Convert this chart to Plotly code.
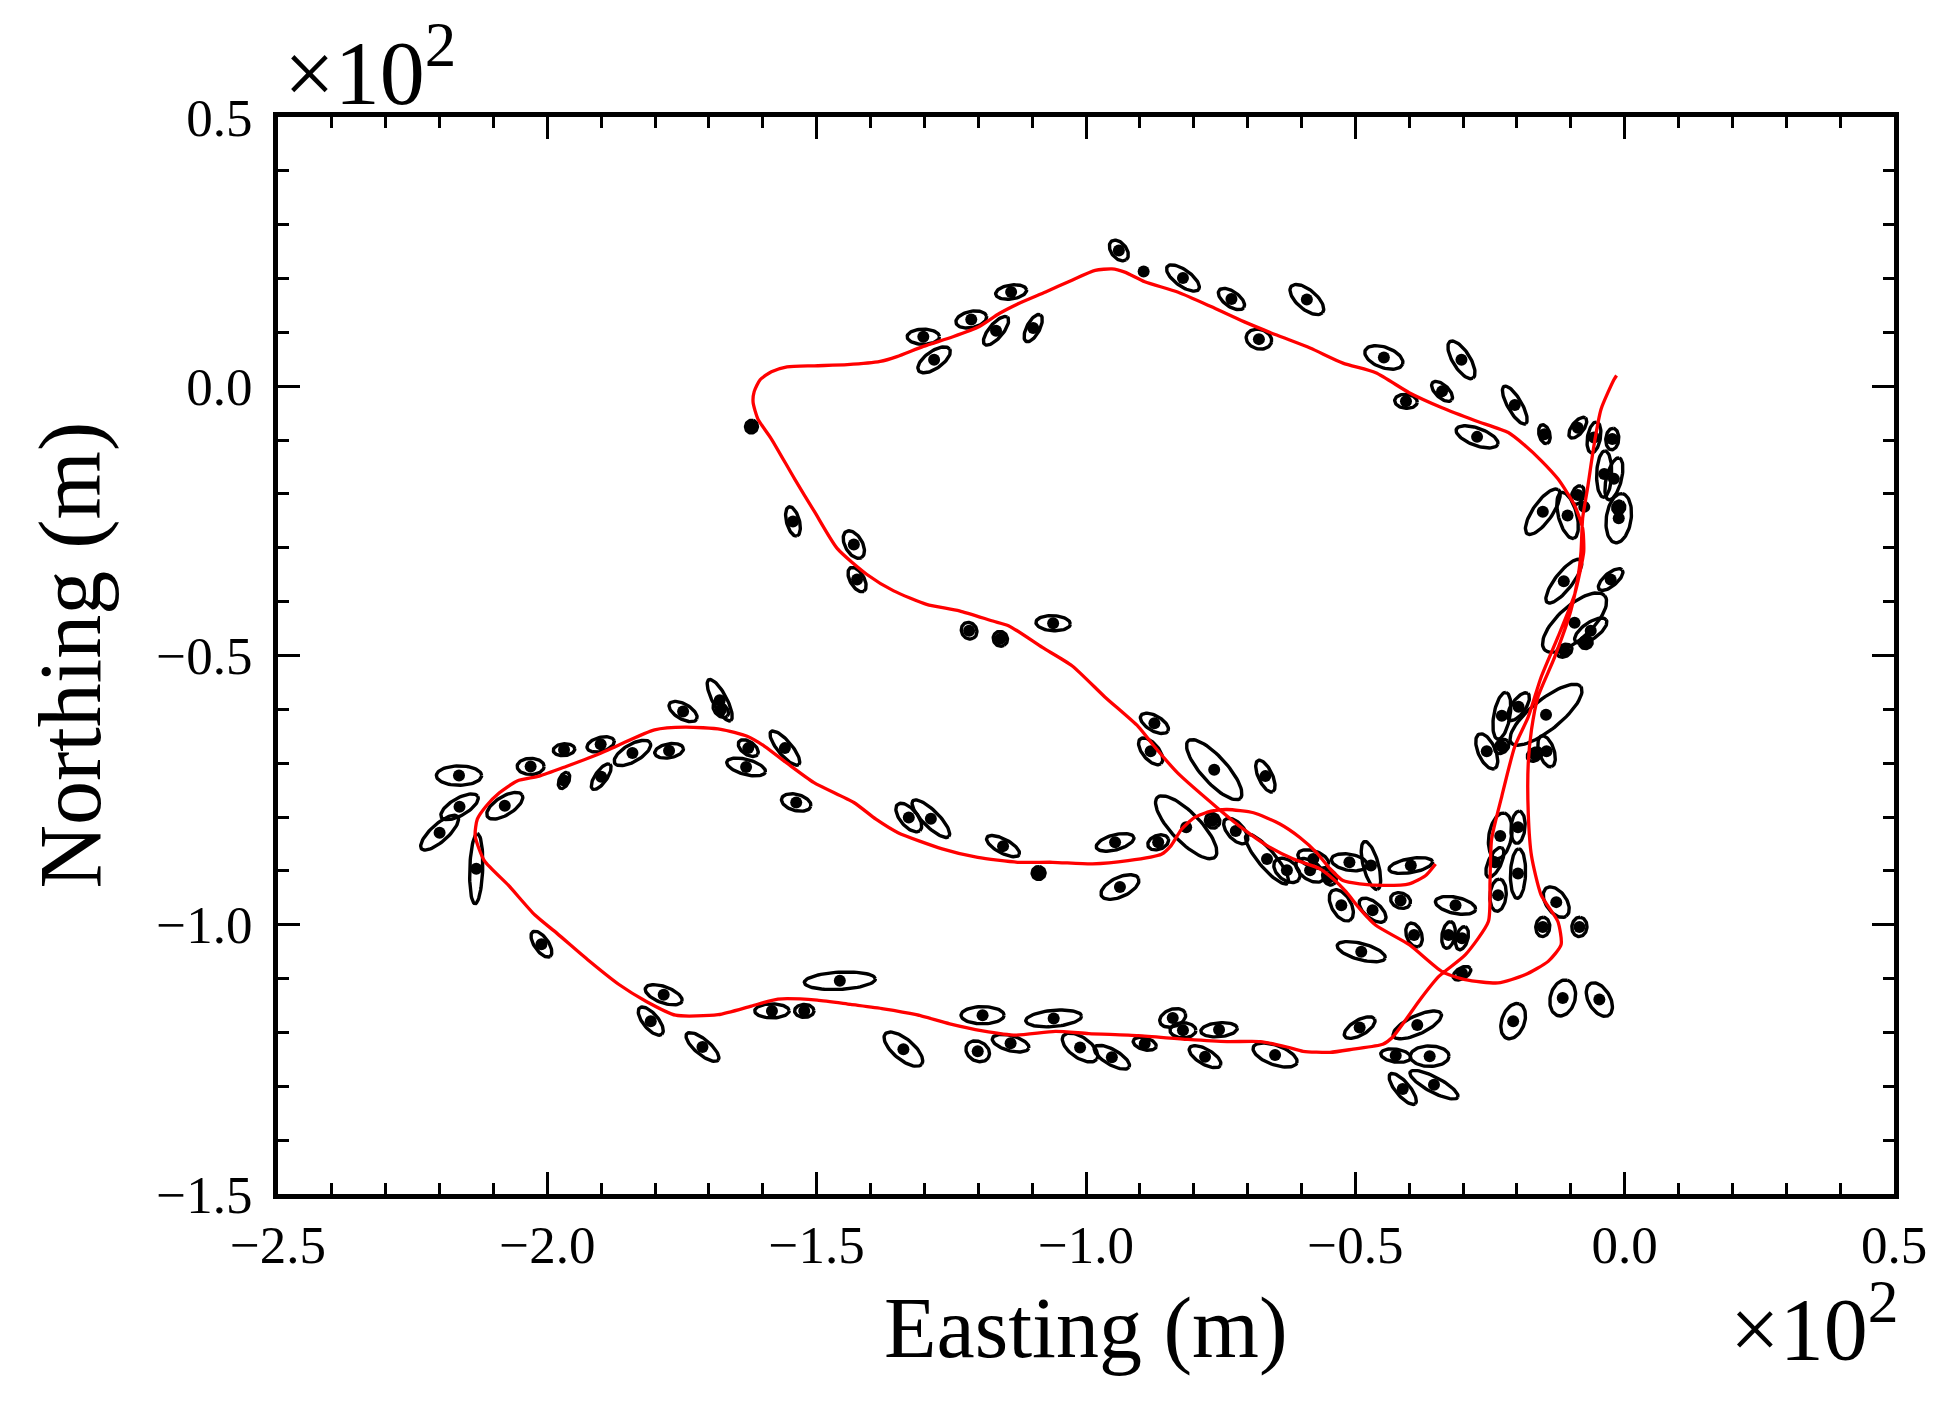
import numpy as np
import plotly.graph_objects as go

# trajectory (easting, northing in m)
track_e = [-1.5, -2.0, -4.4, -5.7, -6.9, -7.8, -8.1, -8.6, -10.0, -13.0, -16.1, -17.3, -17.9, -17.9,
           -17.3, -15.5, -12.4, -11.8, -14.2, -18.5, -23.5, -29.6, -33.9, -40.0, -46.2, -49.2, -51.7,
           -54.1, -56.6, -61.5, -66.4, -70.7, -75.6, -83.0, -87.3, -90.3, -96.5, -102.6, -108.1,
           -114.3, -117.3, -123.5, -129.6, -135.7, -140.6, -146.2, -150.4, -154.1, -158.4, -160.9,
           -161.8, -161.6, -160.5, -158.4, -155.5, -150.4, -144.3, -138.2, -135.1, -130.2, -124.7,
           -119.8, -116.1, -112.4, -107.5, -102.6, -98.3, -95.2, -92.8, -89.1, -83.0, -76.8, -70.7,
           -64.6, -58.4, -52.3, -46.2, -40.0, -33.9, -27.7, -21.6, -18.5, -15.5, -12.4, -9.3, -7.8,
           -7.6, -8.3, -9.3, -12.4, -15.5, -17.9, -20.4, -22.8, -24.7, -25.0, -25.3, -29.6, -34.5,
           -38.2, -40.6, -43.1, -44.9, -50.4, -54.7, -59.7, -62.7, -67.6, -73.8, -81.1, -90.3,
           -99.5, -105.7, -113.0, -119.2, -125.3, -131.5, -137.6, -143.7, -149.9, -157.2, -162.1,
           -168.3, -176.2, -181.7, -186.7, -192.5, -198.2, -202.3, -207.2, -211.7, -213.4, -213.0,
           -211.3, -208.9, -205.6, -201.5, -196.5, -190.0, -186.7, -180.1, -174.4, -167.8, -162.9,
           -159.6, -155.5, -150.5, -143.1, -139.0, -134.9, -126.7, -120.1, -112.7, -106.2, -98.8,
           -92.2, -86.0, -84.2, -82.3, -79.9, -76.8, -73.8, -68.9, -64.0, -60.3, -57.2, -54.7,
           -52.3, -49.2, -44.3, -40.0, -37.0, -35.1]
track_n = [2.0, 1.2, -4.3, -11.0, -19.0, -24.5, -30.7, -35.0, -41.7, -50.3, -57.7, -63.8, -70.0, -79.2,
           -87.2, -94.5, -99.4, -103.7, -106.8, -109.3, -110.8, -110.2, -108.7, -103.7, -100.1, -97.0,
           -93.9, -91.5, -89.6, -87.8, -85.3, -82.3, -78.3, -71.8, -66.9, -63.2, -57.7, -51.9, -48.5,
           -44.5, -43.6, -41.7, -40.5, -38.0, -35.0, -30.1, -23.3, -17.2, -9.8, -6.1,
           -3.0, -1.0, 1.2, 2.7, 3.6, 3.8, 4.0, 4.6, 5.5, 7.4, 9.2,
           11.1, 13.5, 15.4, 17.5, 19.7, 21.5, 21.8, 21.2, 19.4, 17.5, 14.8, 12.0,
           9.5, 7.1, 4.3, 2.5, -1.2, -4.0, -6.4, -8.6, -11.0, -13.8, -17.2, -22.1, -26.4,
           -30.7, -34.5, -38.7, -46.6, -54.0, -61.4, -66.9, -76.1, -84.1, -92.1, -99.4, -105.6, -109.6,
           -114.2, -117.6, -120.9, -122.2, -123.1, -123.7, -123.5, -122.7, -121.7, -121.7, -121.3, -120.6,
           -120.2, -119.8, -120.5, -119.7, -118.4, -116.7, -115.6, -114.8, -114.0, -113.8, -115.1,
           -116.7, -116.8, -114.2, -111.1, -106.5, -101.6, -98.2, -92.7, -88.1, -83.5, -80.4,
           -77.9, -75.5, -73.3, -72.4, -70.6, -68.1, -66.6, -63.8, -63.3, -63.7, -65.0,
           -66.9, -70.0, -73.6, -77.3, -80.4, -82.9, -85.9, -87.5, -88.4, -88.4, -88.7,
           -88.1, -86.9, -85.3, -82.3, -80.1, -78.9, -78.6, -79.2, -81.3, -83.8, -86.6, -89.6,
           -91.8, -92.4, -92.7, -92.4, -90.9, -88.7]

# landmark estimates: centre, semi-axes (m), orientation (deg)
lm_e = [-130.2, -128.2, -121.3, -116.7, -113.9, -109.8, -93.9, -89.3, -82.0, -73.0, -59.0, -67.9,
        -44.7, -30.3, -40.6, -33.9, -20.4, -27.4, -14.9, -8.7, -5.7, -2.3, -3.8, -2.0, -1.1, -1.1,
        -10.6, -8.7, -7.5, -15.2, -11.3, -2.6, -9.3, -6.3, -11.2, -7.2, -22.8, -19.7, -14.6, -25.6,
        -22.8, -14.5, -16.7, -23.1, -19.8, -19.8, -23.5, -24.1, -31.4, -32.7, -30.2, -30.2, -12.7,
        -15.2, -8.4, -11.5, -4.7, -20.7, -87.3, -88.0, -76.2, -66.7, -81.4, -76.5, -94.6, -86.6,
        -93.7, -72.2, -66.4, -62.7, -57.8, -58.4, -54.8, -52.6, -51.1, -47.1, -39.7, -46.8, -41.6,
        -39.1, -48.9, -178.4, -180.8, -171.2, -158.3, -152.3, -145.7, -133.9, -119.2, -120.1,
        -114.0, -106.0, -101.1, -95.2, -89.1, -83.9, -82.0, -75.3, -77.9, -64.9, -49.2, -38.5,
        -42.5, -36.2, -41.2, -35.4, -216.4, -203.1, -196.9, -190.1, -184.2, -177.4, -196.9, -190.0,
        -216.3, -220.0, -207.9, -213.2, -174.8, -168.0, -167.8, -162.7, -155.9, -163.1, -153.8,
        -132.9, -128.8, -115.4, -108.8, -201.1, -162.1, -154.4, -143.1, -142.5, -121.7, -115.9,
        -106.1]
lm_n = [9.2, 4.9, 12.4, 10.3, 17.5, 10.8, 25.2, 21.3, 20.1, 16.2, 16.1, 8.75,
        5.35, 4.9, -2.8, -0.95, -3.5, -9.4, -8.9, -7.7, -9.5, -9.8, -16.3, -17.2, -24.5, -22.5,
        -24.0, -20.2, -22.4, -23.3, -36.2, -35.9, -43.9, -45.4, -49.1, -47.6, -61.2, -59.5, -61.0, -67.8,
        -66.9, -67.8, -68.4, -83.5, -81.9, -90.5, -94.5, -88.4, -96.4, -101.9, -102.5, -109.0, -95.8,
        -100.4, -100.4, -113.6, -113.9, -117.9, -62.6, -67.8, -71.2, -72.4, -81.9, -80.7, -84.7, -84.7,
        -93.0, -82.6, -87.8, -89.9, -87.8, -89.9, -91.2, -96.4, -88.4, -89.0, -89.0, -97.3, -95.5,
        -101.9, -105.0, -113.0, -117.9, -122.7, -116.0, -116.0, -110.4, -123.1, -116.8, -123.5,
        -122.0, -117.4, -122.8, -124.6, -122.1, -117.3, -119.6, -119.5, -124.5, -124.2, -119.1, -118.6,
        -124.3, -124.4, -130.5, -129.7, -72.3, -70.6, -67.5, -66.5, -68.1, -67.7, -73.2, -72.5,
        -78.1, -82.9, -77.9, -89.6, -60.4, -58.3, -60.1, -67.2, -67.2, -70.7, -77.3,
        -80.1, -80.3, -85.4, -90.4, -103.6, -7.5, -25.1, -29.4, -35.9, -45.4, -46.9,
        -44.0]
lm_a = [3.0, 3.5, 2.9, 3.3, 2.9, 2.8, 2.2, 0.6, 3.6, 2.8, 3.8, 2.4,
        3.7, 4.0, 2.1, 2.4, 4.0, 4.1, 1.8, 2.3, 2.9, 2.0, 4.3, 4.0, 4.6, 1.2,
        4.4, 1.8, 0.6, 5.0, 5.0, 2.8, 7.5, 3.5, 1.5, 1.2, 4.4, 3.0, 8.3, 3.5,
        1.5, 3.0, 1.5, 4.3, 3.0, 4.6, 3.0, 3.0, 3.8, 2.5, 2.2, 1.8, 3.2,
        1.8, 1.8, 3.4, 3.4, 3.4, 2.9, 3.0, 7.2, 3.2, 7.7, 1.4, 3.6, 2.0,
        3.8, 2.9, 5.9, 2.8, 3.0, 3.0, 1.5, 3.2, 3.4, 4.6, 4.1, 3.0, 1.9,
        2.3, 4.6, 3.6, 3.2, 3.8, 3.2, 1.8, 6.6, 4.4, 4.0, 2.3,
        3.5, 5.2, 3.8, 3.7, 2.2, 2.5, 2.4, 3.4, 3.3, 4.3, 3.2, 4.9,
        2.8, 3.6, 3.6, 5.0, 4.2, 2.5, 2.0, 2.6, 3.8, 2.7, 1.6, 2.8,
        3.9, 4.5, 3.8, 6.5, 2.9, 4.3, 1.7, 2.1, 4.0, 3.7, 2.8,
        3.2, 4.7, 3.4, 1.2, 2.8, 1.2, 2.8, 2.8, 2.5, 1.6, 1.4,
        3.2]
lm_b = [1.4, 1.6, 1.5, 1.3, 1.3, 1.2, 1.4, 0.6, 1.5, 1.4, 1.8, 1.8,
        1.9, 1.6, 1.3, 1.2, 1.3, 1.6, 1.0, 1.1, 1.2, 1.2, 1.4, 1.4, 2.3, 1.1,
        1.7, 1.1, 0.6, 1.8, 1.6, 1.2, 3.1, 1.5, 1.1, 1.1, 1.5, 1.3, 2.8, 1.6,
        1.1, 1.4, 1.1, 2.1, 1.3, 1.4, 1.5, 1.2, 1.5, 1.2, 1.1, 1.0, 1.9,
        1.3, 1.4, 2.3, 2.0, 2.1, 1.4, 1.5, 2.4, 1.3, 2.7, 1.3, 1.4, 1.3,
        1.8, 1.5, 1.6, 1.8, 1.5, 1.7, 1.2, 1.8, 1.5, 1.4, 1.3, 1.5, 1.4,
        1.4, 1.5, 1.5, 1.4, 1.4, 1.3, 1.2, 1.6, 1.9, 1.6, 1.8,
        1.4, 1.5, 1.9, 1.4, 1.1, 1.6, 1.4, 1.3, 1.4, 1.8, 1.4, 1.7,
        1.2, 1.9, 1.3, 1.4, 1.8, 1.5, 1.1, 1.3, 1.6, 1.3, 0.9, 1.1,
        1.6, 1.6, 1.7, 1.2, 1.4, 1.3, 1.1, 1.2, 1.3, 1.4, 1.5,
        1.6, 1.5, 1.3, 1.2, 1.3, 1.1, 1.2, 1.6, 1.3, 1.4, 1.3,
        1.4]
lm_ang = [0, 35, 12, 50, 8, 62, -51, 0, -36, -35, -40, -15,
          -20, -58, -5, -43, -60, -20, -75, 52, 80, 85, 88, 76, 82, 60,
          -75, 70, 0, 55, 52, 40, 42, 35, 30, 30, 80, 55, 39, -66,
          45, -72, 35, 80, 85, 88, 85, 65, -12, 80, 75, 30, -55,
          85, 85, 75, -60, 70, -30, -50, -48, -65, -46, -50, 15, 20,
          25, -48, -50, -40, -20, -35, -60, -60, -10, -75, 10, -40, -20,
          -70, -15, -20, -50, -40, 0, 0, 3, -40, 0, -30,
          -15, 5, -35, -30, -15, 20, 0, 5, -30, -20, 30, 25,
          -8, 0, -50, -28, 0, 0, 5, 15, 30, 10, 65, 55,
          30, 42, 32, 88, -30, -62, -45, -35, -50, -15, -15,
          -50, -45, -28, 80, -55, 75, -75, -60, -60, -60, -60,
          -3]

x_tickvals = [-250, -200, -150, -100, -50, 0, 50]
x_ticktext = ["\u22122.5", "\u22122.0", "\u22121.5", "\u22121.0", "\u22120.5", "0.0", "0.5"]
y_tickvals = [-150, -100, -50, 0, 50]
y_ticktext = ["\u22121.5", "\u22121.0", "\u22120.5", "0.0", "0.5"]

FONT = "Liberation Serif"

# ellipse outlines, all in one trace split by None
t = np.linspace(0, 2 * np.pi, 72)
ell_x, ell_y = [], []
for cx, cy, a, b, ang in zip(lm_e, lm_n, lm_a, lm_b, lm_ang):
    th = np.radians(ang)
    ex = cx + a * np.cos(t) * np.cos(th) - b * np.sin(t) * np.sin(th)
    ey = cy + a * np.cos(t) * np.sin(th) + b * np.sin(t) * np.cos(th)
    ell_x += list(ex) + [None]
    ell_y += list(ey) + [None]

fig = go.Figure()
fig.add_trace(go.Scatter(x=ell_x, y=ell_y, mode="lines",
                         line=dict(color="black", width=3.4), hoverinfo="skip"))
fig.add_trace(go.Scatter(x=lm_e, y=lm_n, mode="markers",
                         marker=dict(color="black", size=12)))
fig.add_trace(go.Scatter(x=track_e, y=track_n, mode="lines",
                         line=dict(color="red", width=3.3, shape="spline", smoothing=0.6)))

axis_common = dict(showline=True, linecolor="black", linewidth=5, mirror="allticks",
                   ticks="inside", ticklen=22, tickwidth=2.8, tickcolor="black",
                   showgrid=False, zeroline=False,
                   tickfont=dict(family=FONT, size=53, color="black"))

fig.update_xaxes(range=[-250, 50], tickvals=x_tickvals, ticktext=x_ticktext,
                 minor=dict(ticks="inside", ticklen=11, tickwidth=2.8, tickcolor="black", dtick=10),
                 ticklabelstandoff=0, **axis_common)
fig.update_yaxes(range=[-150, 50], tickvals=y_tickvals, ticktext=y_ticktext,
                 minor=dict(ticks="inside", ticklen=11, tickwidth=2.8, tickcolor="black", dtick=10),
                 ticklabelstandoff=10, **axis_common)

fig.update_layout(
    width=1956, height=1408,
    margin=dict(l=270, r=70, t=109, b=222),
    plot_bgcolor="white", paper_bgcolor="white",
    showlegend=False,
    annotations=[
        dict(text="Northing (m)", xref="paper", yref="paper", x=0, y=0.5, xshift=-208,
             xanchor="center", yanchor="middle", textangle=-90, showarrow=False,
             font=dict(family=FONT, size=88, color="black")),
        dict(text="Easting (m)", xref="paper", yref="paper", x=0.5, y=0, yshift=-134,
             xanchor="center", yanchor="middle", showarrow=False,
             font=dict(family=FONT, size=86, color="black")),
        dict(text="\u00d710<sup>2</sup>", xref="paper", yref="paper", x=0, y=1, xshift=4,
             yshift=-8, xanchor="left", yanchor="bottom", showarrow=False,
             font=dict(family=FONT, size=90, color="black")),
        dict(text="\u00d710<sup>2</sup>", xref="paper", yref="paper", x=1, y=0, yshift=-128,
             xshift=6, xanchor="right", yanchor="middle", showarrow=False,
             font=dict(family=FONT, size=88, color="black")),
    ],
)

fig.write_html("out.html")
